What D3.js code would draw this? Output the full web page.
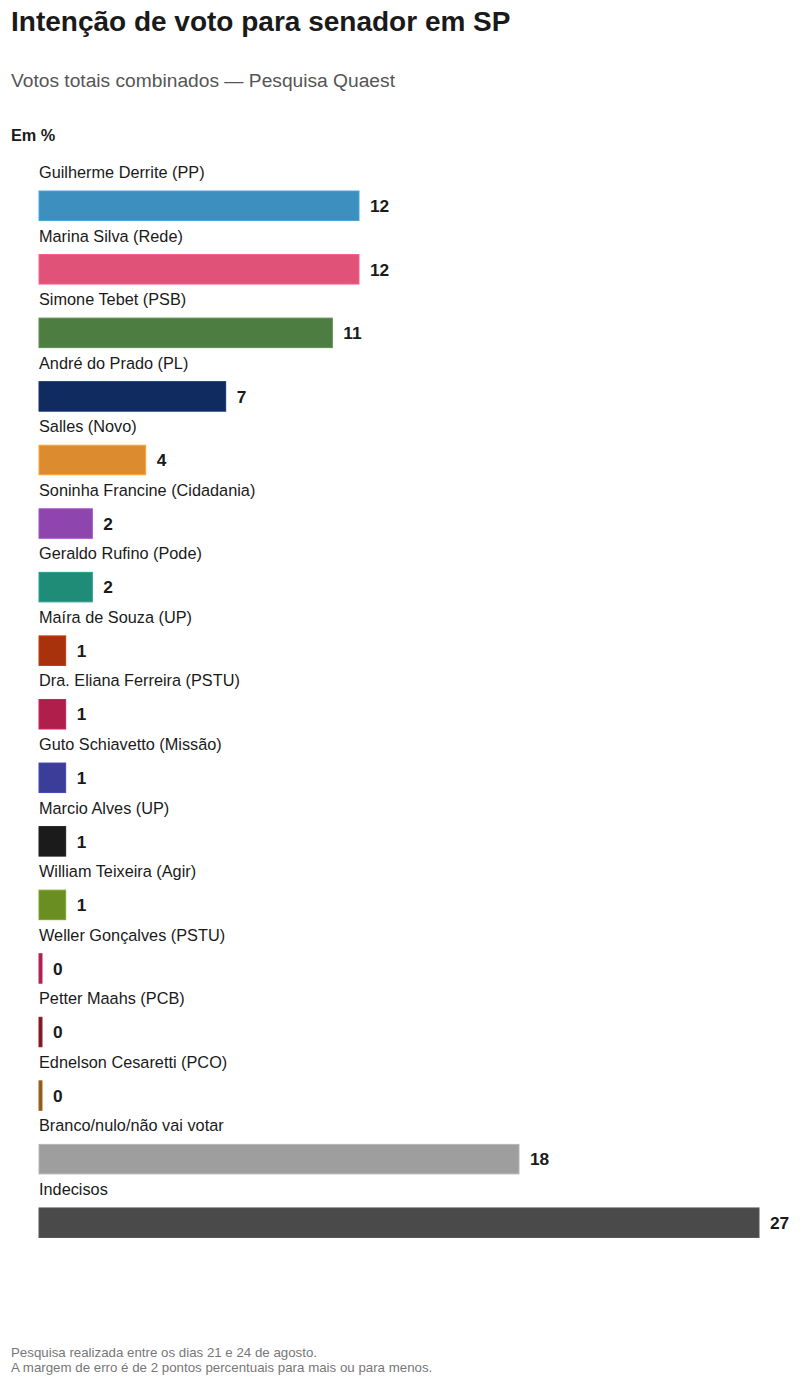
<!DOCTYPE html>
<html><head><meta charset="utf-8">
<script src="https://cdn.jsdelivr.net/npm/d3@7"></script>
<style>
body{margin:0;background:#fff;font-family:"Liberation Sans",Arial,sans-serif;}
</style></head>
<body><svg id="c" width="800" height="1385"></svg>
<script>
const categories = ["Guilherme Derrite (PP)","Marina Silva (Rede)","Simone Tebet (PSB)","André do Prado (PL)","Salles (Novo)","Soninha Francine (Cidadania)","Geraldo Rufino (Pode)","Maíra de Souza (UP)","Dra. Eliana Ferreira (PSTU)","Guto Schiavetto (Missão)","Marcio Alves (UP)","William Teixeira (Agir)","Weller Gonçalves (PSTU)","Petter Maahs (PCB)","Ednelson Cesaretti (PCO)","Branco/nulo/não vai votar","Indecisos"];
const values = [12,12,11,7,4,2,2,1,1,1,1,1,0,0,0,18,27];
const colors = ["#3d8fbf","#e05278","#4e7d42","#0f2b60","#dc8c2e","#8e45ad","#1f8c78","#a8320c","#b01e4c","#3b3d99","#1b1b1b","#6b8e23","#a8204f","#7a1b22","#8b5a1e","#9e9e9e","#4a4a4a"];

const svg = d3.select("#c");
svg.append("text").attr("x",11).attr("y",31).attr("font-size",28).attr("font-weight","bold").attr("fill","#1a1a1a").text("Intenção de voto para senador em SP");
svg.append("text").attr("x",11).attr("y",87).attr("font-size",19.2).attr("fill","#555").text("Votos totais combinados — Pesquisa Quaest");
svg.append("text").attr("x",11).attr("y",141).attr("font-size",16.3).attr("font-weight","bold").attr("fill","#1a1a1a").text("Em %");

const x = d3.scaleLinear().domain([0,27]).range([0,720]);
const x0 = 39;
const y = d3.scaleBand().domain(d3.range(categories.length)).range([159, 159+63.56*categories.length]).paddingInner(0);
const barTop = i => y(i)+32;
const bh = 29.5;

const g = svg.append("g");
const rows = g.selectAll("g.row").data(categories).join("g").attr("class","row");
rows.append("text").attr("x",x0).attr("y",(d,i)=>y(i)+19).attr("font-size",16.3).attr("fill","#1a1a1a").text(d=>d);
rows.append("rect").attr("x",x0).attr("y",(d,i)=>barTop(i)).attr("height",bh)
  .attr("width",(d,i)=>Math.max(3,x(values[i])))
  .attr("fill",(d,i)=>colors[i])
  .attr("stroke",(d,i)=>d3.color(colors[i]).brighter(0.4))
  .attr("stroke-width",1);
rows.append("text").attr("x",(d,i)=>x0+Math.max(3,x(values[i]))+11).attr("y",(d,i)=>barTop(i)+bh/2).attr("dy","0.36em")
  .attr("font-size",17.3).attr("font-weight","bold").attr("fill","#1a1a1a").text((d,i)=>values[i]);

svg.append("text").attr("x",11).attr("y",1357).attr("font-size",13.3).attr("fill","#777").text("Pesquisa realizada entre os dias 21 e 24 de agosto.");
svg.append("text").attr("x",11).attr("y",1372).attr("font-size",13.3).attr("fill","#777").text("A margem de erro é de 2 pontos percentuais para mais ou para menos.");
</script></body></html>
